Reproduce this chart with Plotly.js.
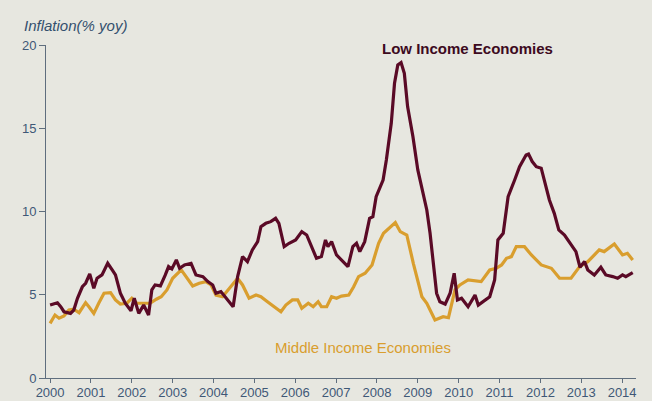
<!DOCTYPE html>
<html><head><meta charset="utf-8">
<script src="https://cdn.plot.ly/plotly-3.0.1.min.js"></script>
<style>html,body{margin:0;padding:0;background:#e7e7e0;}#chart{width:652px;height:401px;}</style>
</head><body><div id="chart"></div>
<script>
const lowYears = [2000.00,2000.18,2000.26,2000.34,2000.50,2000.58,2000.67,2000.79,2000.87,2000.97,2001.07,2001.15,2001.27,2001.41,2001.52,2001.60,2001.72,2001.84,2001.98,2002.06,2002.17,2002.29,2002.41,2002.49,2002.57,2002.70,2002.82,2002.90,2002.98,2003.09,2003.17,2003.29,2003.45,2003.57,2003.74,2003.86,2003.98,2004.06,2004.18,2004.34,2004.48,2004.59,2004.71,2004.83,2004.95,2005.08,2005.16,2005.28,2005.40,2005.52,2005.60,2005.73,2005.85,2006.01,2006.16,2006.28,2006.36,2006.52,2006.64,2006.74,2006.80,2006.89,2007.01,2007.13,2007.29,2007.41,2007.50,2007.58,2007.70,2007.82,2007.90,2007.98,2008.07,2008.15,2008.23,2008.35,2008.43,2008.51,2008.59,2008.67,2008.75,2008.88,2009.00,2009.12,2009.22,2009.30,2009.38,2009.46,2009.54,2009.67,2009.79,2009.89,2009.97,2010.07,2010.23,2010.40,2010.48,2010.64,2010.76,2010.88,2010.96,2011.09,2011.21,2011.37,2011.49,2011.65,2011.71,2011.80,2011.90,2012.02,2012.10,2012.22,2012.34,2012.45,2012.59,2012.79,2012.87,2012.97,2013.08,2013.16,2013.32,2013.48,2013.60,2013.77,2013.89,2014.01,2014.09,2014.26];
const lowValues = [4.38,4.52,4.28,3.98,3.88,4.08,4.79,5.48,5.69,6.25,5.39,5.99,6.19,6.89,6.49,6.19,5.09,4.49,4.04,4.79,3.88,4.38,3.78,5.29,5.59,5.53,6.19,6.69,6.55,7.09,6.59,6.79,6.89,6.19,6.09,5.79,5.59,5.09,5.19,4.69,4.28,6.09,7.29,6.99,7.69,8.19,9.09,9.29,9.39,9.59,9.29,7.89,8.09,8.29,8.79,8.59,8.09,7.19,7.29,8.29,7.89,8.19,7.39,7.09,6.69,7.89,8.09,7.59,8.19,9.59,9.69,10.89,11.49,11.89,13.09,15.3,17.7,18.8,18.94,18.3,16.3,14.5,12.5,11.09,10.09,8.69,6.69,5.09,4.58,4.44,5.09,6.29,4.69,4.79,4.28,4.98,4.38,4.69,4.88,5.89,8.29,8.69,10.89,11.89,12.69,13.39,13.45,13.0,12.69,12.6,11.89,10.69,9.89,8.89,8.59,7.89,7.59,6.65,6.99,6.49,6.19,6.65,6.19,6.09,5.99,6.19,6.09,6.33];
const midYears = [2000.00,2000.12,2000.22,2000.34,2000.46,2000.58,2000.71,2000.87,2000.95,2001.07,2001.19,2001.32,2001.48,2001.60,2001.72,2001.88,2002.00,2002.12,2002.29,2002.45,2002.60,2002.72,2002.86,2003.00,2003.21,2003.33,2003.49,2003.65,2003.81,2003.94,2004.06,2004.22,2004.39,2004.59,2004.71,2004.87,2005.04,2005.16,2005.32,2005.48,2005.65,2005.77,2005.93,2006.06,2006.16,2006.32,2006.44,2006.56,2006.64,2006.77,2006.89,2007.01,2007.13,2007.31,2007.43,2007.55,2007.71,2007.88,2008.04,2008.16,2008.33,2008.45,2008.57,2008.73,2008.89,2009.02,2009.10,2009.22,2009.42,2009.62,2009.75,2009.91,2010.03,2010.23,2010.55,2010.76,2010.92,2011.05,2011.17,2011.29,2011.41,2011.61,2011.78,2012.02,2012.27,2012.47,2012.75,2012.96,2013.16,2013.44,2013.56,2013.81,2014.01,2014.13,2014.26];
const midValues = [3.28,3.78,3.59,3.72,4.08,4.13,3.92,4.52,4.28,3.88,4.49,5.09,5.13,4.69,4.44,4.49,4.79,4.49,4.49,4.49,4.73,4.88,5.29,5.99,6.49,6.09,5.53,5.69,5.79,5.59,4.98,4.88,5.39,5.99,5.59,4.79,4.98,4.88,4.58,4.28,3.98,4.38,4.69,4.69,4.19,4.49,4.28,4.58,4.28,4.28,4.88,4.79,4.92,4.98,5.48,6.09,6.29,6.79,8.09,8.69,9.09,9.33,8.79,8.59,6.89,5.6,4.88,4.49,3.48,3.68,3.62,5.29,5.59,5.89,5.79,6.49,6.59,6.79,7.19,7.29,7.89,7.89,7.39,6.79,6.59,5.99,5.99,6.69,6.99,7.69,7.59,8.05,7.39,7.49,7.09];
const yearTicks = [2000,2001,2002,2003,2004,2005,2006,2007,2008,2009,2010,2011,2012,2013,2014];
const yTicks = [0,5,10,15,20];
const lowName = "Low Income Economies";
const midName = "Middle Income Economies";
const yTitle = "Inflation(% yoy)";

const font = "Liberation Sans, Arial, sans-serif";
const tickCol = "#3f5877";
const axisCol = "#5f6e7e";
const traces = [
  {x: midYears, y: midValues, type: "scatter", mode: "lines", name: midName,
   line: {color: "#d99e2e", width: 3.2}},
  {x: lowYears, y: lowValues, type: "scatter", mode: "lines", name: lowName,
   line: {color: "#5a0a26", width: 3.2}}
];
const layout = {
  width: 652, height: 401,
  margin: {l: 46, r: 16, t: 45, b: 23},
  paper_bgcolor: "#e7e7e0", plot_bgcolor: "#e7e7e0",
  showlegend: false,
  xaxis: {range: [1999.9, 2014.34], tickvals: yearTicks, ticktext: yearTicks.map(String),
    showgrid: false, zeroline: false, showline: true, linecolor: axisCol, linewidth: 1,
    ticks: "outside", ticklen: 4, tickcolor: axisCol, ticklabelstandoff: -2,
    tickfont: {family: font, size: 13, color: tickCol}},
  yaxis: {range: [0, 20], tickvals: yTicks, showgrid: false, zeroline: false, showline: true,
    linecolor: axisCol, linewidth: 1, ticks: "outside", ticklen: 6, tickcolor: axisCol,
    tickfont: {family: font, size: 13, color: tickCol}},
  annotations: [
    {text: yTitle, xref: "paper", yref: "paper", x: -0.041, y: 1.06, xanchor: "left", yanchor: "middle",
     showarrow: false, font: {family: font, size: 15, color: "#34506e", style: "italic"}},
    {text: lowName, xref: "paper", yref: "paper", x: (467.5-46)/590, y: (378-48)/333, xanchor: "center", yanchor: "middle",
     showarrow: false, font: {family: font, size: 15, color: "#3d0a1e", weight: 600}},
    {text: midName, xref: "paper", yref: "paper", x: (362.5-46)/590, y: (378-347)/333, xanchor: "center", yanchor: "middle",
     showarrow: false, font: {family: font, size: 15, color: "#d99e2e"}}
  ]
};
Plotly.newPlot("chart", traces, layout, {displayModeBar: false, staticPlot: true});
</script></body></html>
